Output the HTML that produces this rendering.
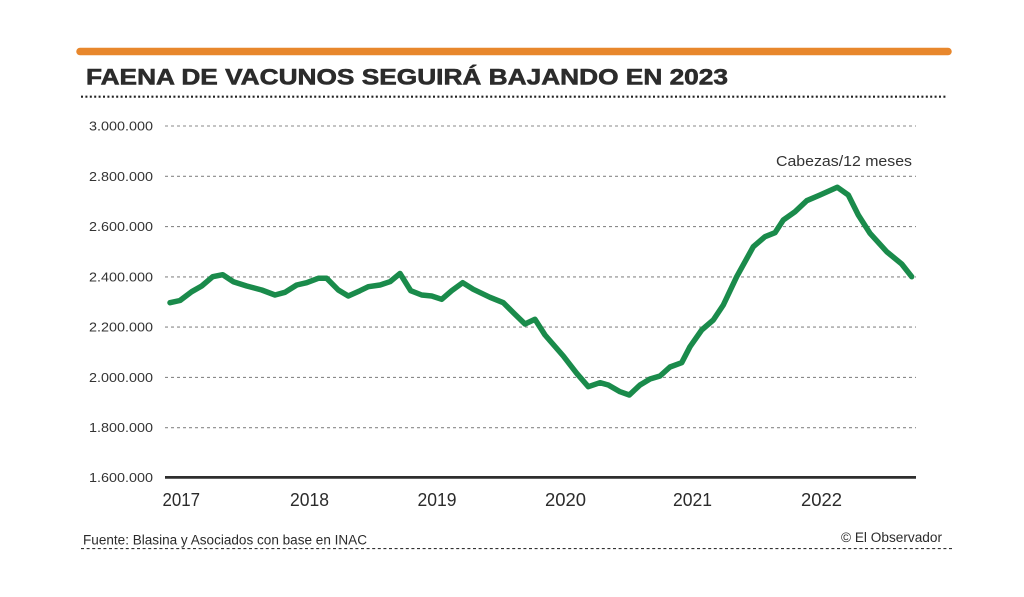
<!DOCTYPE html>
<html>
<head>
<meta charset="utf-8">
<style>
  html,body{margin:0;padding:0;background:#fff;}
  svg{display:block;}
  text{font-family:"Liberation Sans",sans-serif;}
</style>
</head>
<body>
<svg width="1024" height="597" viewBox="0 0 1024 597" xmlns="http://www.w3.org/2000/svg">
  <rect x="0" y="0" width="1024" height="597" fill="#ffffff"/>
  <!-- orange bar -->
  <line x1="80" y1="51.5" x2="948" y2="51.5" stroke="#E8872C" stroke-width="7.5" stroke-linecap="round"/>
  <!-- title -->
  <text x="86" y="84.5" font-size="22.5" font-weight="bold" fill="#2b2b2b" stroke="#2b2b2b" stroke-width="0.6" textLength="642" lengthAdjust="spacingAndGlyphs">FAENA DE VACUNOS SEGUIRÁ BAJANDO EN 2023</text>
  <!-- dotted line under title -->
  <line x1="81" y1="96.7" x2="947" y2="96.7" stroke="#222" stroke-width="2.2" stroke-dasharray="2,2.4"/>

  <!-- gridlines -->
  <g stroke="#8a8a8a" stroke-width="1.1" stroke-dasharray="3,3">
    <line x1="165" y1="126" x2="916" y2="126"/>
    <line x1="165" y1="176.3" x2="916" y2="176.3"/>
    <line x1="165" y1="226.6" x2="916" y2="226.6"/>
    <line x1="165" y1="276.9" x2="916" y2="276.9"/>
    <line x1="165" y1="327.1" x2="916" y2="327.1"/>
    <line x1="165" y1="377.4" x2="916" y2="377.4"/>
    <line x1="165" y1="427.7" x2="916" y2="427.7"/>
  </g>
  <!-- axis -->
  <line x1="165" y1="477.4" x2="916" y2="477.4" stroke="#2e2e2e" stroke-width="2.8"/>

  <!-- y labels -->
  <g font-size="12.5" fill="#333" text-anchor="end">
    <text x="153" y="130.5" textLength="64" lengthAdjust="spacingAndGlyphs">3.000.000</text>
    <text x="153" y="180.8" textLength="64" lengthAdjust="spacingAndGlyphs">2.800.000</text>
    <text x="153" y="231.1" textLength="64" lengthAdjust="spacingAndGlyphs">2.600.000</text>
    <text x="153" y="281.4" textLength="64" lengthAdjust="spacingAndGlyphs">2.400.000</text>
    <text x="153" y="331.6" textLength="64" lengthAdjust="spacingAndGlyphs">2.200.000</text>
    <text x="153" y="381.9" textLength="64" lengthAdjust="spacingAndGlyphs">2.000.000</text>
    <text x="153" y="432.2" textLength="64" lengthAdjust="spacingAndGlyphs">1.800.000</text>
    <text x="153" y="481.9" textLength="64" lengthAdjust="spacingAndGlyphs">1.600.000</text>
  </g>

  <!-- x labels -->
  <g font-size="18" fill="#2b2b2b">
    <text x="162.5" y="506" textLength="37.5" lengthAdjust="spacingAndGlyphs">2017</text>
    <text x="290" y="506" textLength="39" lengthAdjust="spacingAndGlyphs">2018</text>
    <text x="417.5" y="506" textLength="39" lengthAdjust="spacingAndGlyphs">2019</text>
    <text x="545" y="506" textLength="41" lengthAdjust="spacingAndGlyphs">2020</text>
    <text x="673" y="506" textLength="39" lengthAdjust="spacingAndGlyphs">2021</text>
    <text x="801" y="506" textLength="41" lengthAdjust="spacingAndGlyphs">2022</text>
  </g>

  <!-- unit label -->
  <text x="776" y="166" font-size="15" fill="#333" textLength="136" lengthAdjust="spacingAndGlyphs">Cabezas/12 meses</text>

  <!-- data line -->
  <polyline fill="none" stroke="#1A8B4B" stroke-width="5.5" stroke-linejoin="round" stroke-linecap="round"
    points="170,302.7 180,300.5 191.7,291.7 201.7,286 212.7,276.7 222.7,274.7 233.3,281.7 246.7,286 261.7,290 275,295 285,292.3 296.7,285 306.7,282.7 318.3,278.3 326.7,278.3 338.3,290 348.3,296 360,290.7 368.3,286.7 380,285 390,281.7 400,273.5 410.7,290.7 421.7,295 431.7,296 441.7,299.3 451.7,290.7 462.7,282.7 473.3,289.3 490,297.3 503.3,302.7 515,314.3 525,324 535,319.3 545,335 563.3,356 576.7,373.3 588.3,386.7 600,382.7 608.3,385 620,391.7 629.3,395 640,385 650,379 660,376 670,367 681.7,362.7 690,346.7 701.7,330 713.3,320 723.3,305 736.7,276.7 753.3,246.7 765,236.7 775,232.7 783.3,220 795,211.7 806.7,200.7 820,195 837.3,187.3 848.3,195 858.3,215 870,233.3 886.7,251.7 901.7,264 911.7,276.7"/>

  <!-- footer -->
  <text x="83" y="544.5" font-size="13.5" fill="#2b2b2b" textLength="284" lengthAdjust="spacingAndGlyphs">Fuente: Blasina y Asociados con base en INAC</text>
  <text x="942" y="542" font-size="13.5" fill="#2b2b2b" text-anchor="end" textLength="101" lengthAdjust="spacingAndGlyphs">© El Observador</text>
  <line x1="81" y1="548.6" x2="952" y2="548.6" stroke="#333" stroke-width="1.1" stroke-dasharray="3,2.6"/>
</svg>
</body>
</html>
